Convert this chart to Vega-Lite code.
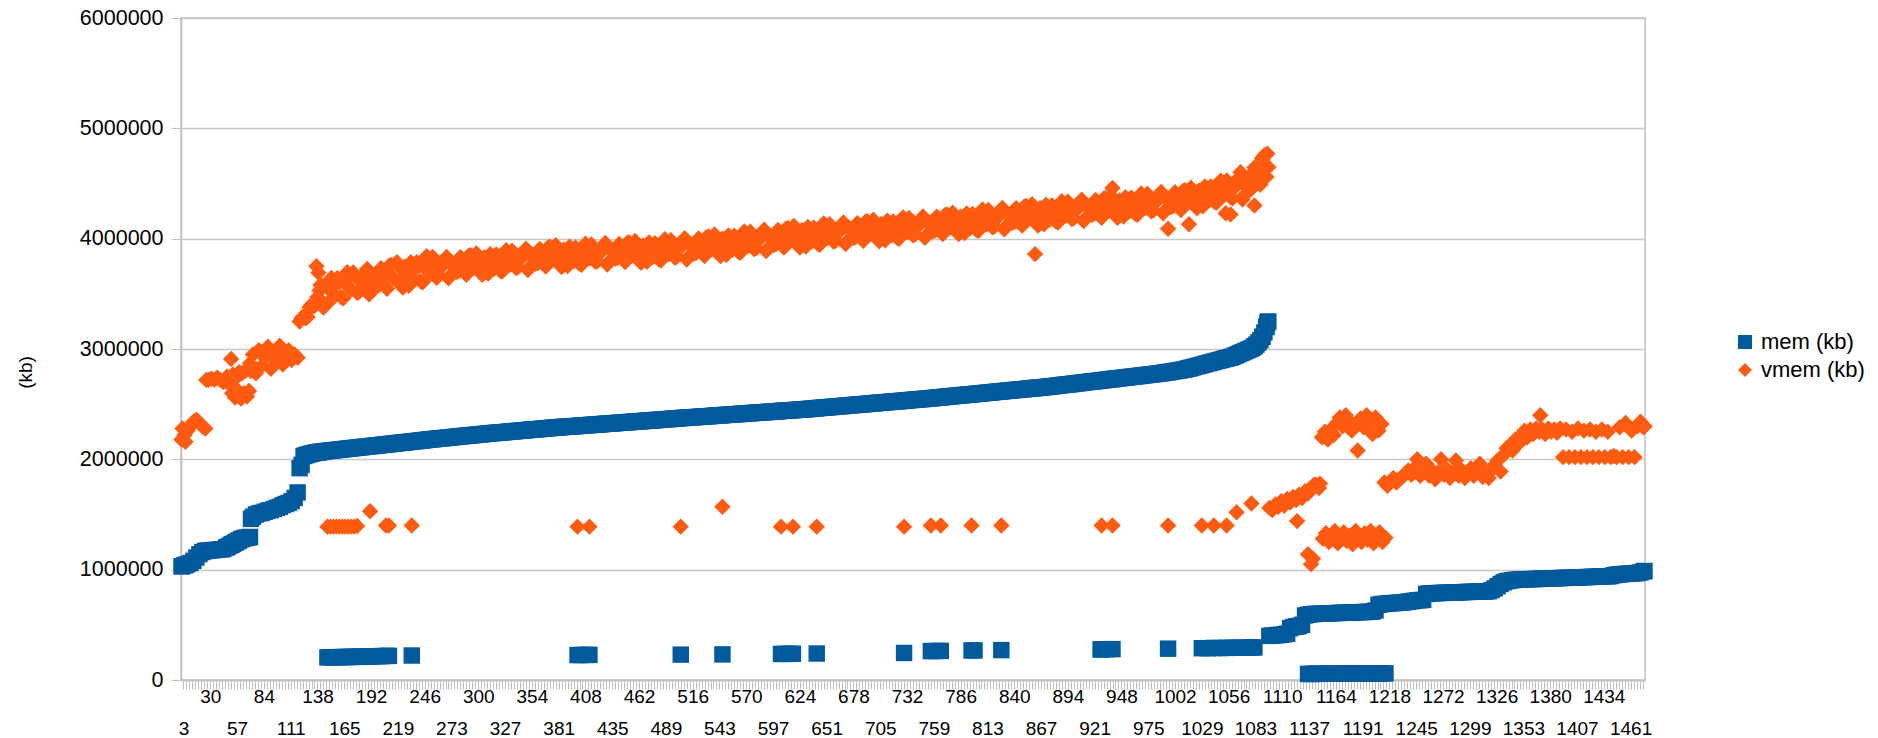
{
  "$schema": "https://vega.github.io/schema/vega-lite/v6.json",
  "width": 1464,
  "height": 662,
  "autosize": {"type": "none"},
  "padding": {"left": 181, "top": 18, "right": 233, "bottom": 58},
  "background": "#ffffff",
  "config": {
    "font": "Liberation Sans",
    "view": {"stroke": "#c0c0c0", "strokeWidth": 1.5},
    "axis": {
      "domainColor": "#c0c0c0",
      "domainWidth": 1.5,
      "tickColor": "#c0c0c0",
      "gridColor": "#c8c8c8",
      "gridWidth": 1.5,
      "labelColor": "#000000",
      "labelFont": "Liberation Sans",
      "titleFont": "Liberation Sans",
      "titleColor": "#000000",
      "titleFontWeight": "normal"
    },
    "legend": {
      "labelFont": "Liberation Sans",
      "labelColor": "#000000"
    }
  },
  "data": {
    "values": [
      {"i":1,"m":1030000,"v":2180000},
      {"i":2,"m":1032000,"v":2280000},
      {"i":4,"m":1040000,"v":2220000},
      {"i":5,"m":1042000,"v":2160000},
      {"i":7,"m":1050000,"v":2260000},
      {"i":10,"m":1060000,"v":2300000},
      {"i":13,"m":1080000,"v":2340000},
      {"i":16,"m":1110000,"v":2360000},
      {"i":19,"m":1140000,"v":2330000},
      {"i":22,"m":1160000,"v":2300000},
      {"i":25,"m":1170000,"v":2280000},
      {"i":26,"m":1170000,"v":2720000},
      {"i":28,"m":1172000,"v":2720000},
      {"i":31,"m":1175000,"v":2730000},
      {"i":34,"m":1178000,"v":2720000},
      {"i":37,"m":1180000,"v":2740000},
      {"i":40,"m":1183000,"v":2720000},
      {"i":43,"m":1186000,"v":2700000},
      {"i":46,"m":1200000,"v":2720000},
      {"i":47,"m":1205000,"v":2750000},
      {"i":49,"m":1215000,"v":2680000},
      {"i":51,"m":1225000,"v":2910000},
      {"i":52,"m":1230000,"v":2600000},
      {"i":53,"m":1235000,"v":2770000},
      {"i":55,"m":1245000,"v":2560000},
      {"i":56,"m":1250000,"v":2740000},
      {"i":58,"m":1260000,"v":2620000},
      {"i":59,"m":1265000,"v":2790000},
      {"i":61,"m":1275000,"v":2550000},
      {"i":62,"m":1280000,"v":2780000},
      {"i":64,"m":1285000,"v":2600000},
      {"i":65,"m":1288000,"v":2800000},
      {"i":67,"m":1290000,"v":2570000},
      {"i":69,"m":1295000,"v":2620000},
      {"i":70,"m":1296000,"v":2870000},
      {"i":71,"m":1460000,"v":2800000},
      {"i":73,"m":1480000,"v":2950000},
      {"i":76,"m":1500000,"v":2780000},
      {"i":79,"m":1510000,"v":2990000},
      {"i":82,"m":1515000,"v":2850000},
      {"i":85,"m":1525000,"v":2920000},
      {"i":88,"m":1535000,"v":3020000},
      {"i":91,"m":1540000,"v":2820000},
      {"i":94,"m":1550000,"v":2960000},
      {"i":97,"m":1560000,"v":2890000},
      {"i":100,"m":1570000,"v":3030000},
      {"i":103,"m":1585000,"v":2860000},
      {"i":106,"m":1595000,"v":2940000},
      {"i":109,"m":1605000,"v":2990000},
      {"i":112,"m":1620000,"v":2900000},
      {"i":115,"m":1650000,"v":2950000},
      {"i":118,"m":1700000,"v":2920000},
      {"i":120,"m":1920000,"v":3250000},
      {"i":122,"m":1950000,"v":3280000},
      {"i":124,"m":2030000,"v":3300000},
      {"i":128,"m":2042000,"v":3289000},
      {"i":132,"m":2052000,"v":3402000},
      {"i":136,"m":2060000,"v":3400000},
      {"i":137,"m":2060000,"v":3750000},
      {"i":139,"m":2064000,"v":3690000},
      {"i":140,"m":2066000,"v":3531000},
      {"i":141,"m":2067000,"v":3580000},
      {"i":144,"m":2071000,"v":3376000},
      {"i":148,"m":2076000,"v":3552000},
      {"i":152,"m":2080000,"v":3643000},
      {"i":156,"m":2084000,"v":3488000},
      {"i":160,"m":2088000,"v":3603000},
      {"i":164,"m":2092000,"v":3460000},
      {"i":168,"m":2096000,"v":3695000},
      {"i":172,"m":2100000,"v":3540000},
      {"i":176,"m":2104000,"v":3656000},
      {"i":180,"m":2108000,"v":3519000},
      {"i":184,"m":2112000,"v":3628000},
      {"i":188,"m":2116000,"v":3725000},
      {"i":192,"m":2120000,"v":3528000},
      {"i":196,"m":2124000,"v":3626000},
      {"i":200,"m":2128000,"v":3579000},
      {"i":204,"m":2132000,"v":3688000},
      {"i":208,"m":2136000,"v":3545000},
      {"i":212,"m":2140000,"v":3762000},
      {"i":216,"m":2144000,"v":3632000},
      {"i":220,"m":2148000,"v":3747000},
      {"i":224,"m":2152000,"v":3556000},
      {"i":228,"m":2156000,"v":3695000},
      {"i":232,"m":2160000,"v":3786000},
      {"i":236,"m":2164000,"v":3632000},
      {"i":240,"m":2168000,"v":3747000},
      {"i":244,"m":2172000,"v":3604000},
      {"i":248,"m":2177000,"v":3840000},
      {"i":252,"m":2181000,"v":3682000},
      {"i":256,"m":2184000,"v":3794000},
      {"i":260,"m":2188000,"v":3666000},
      {"i":264,"m":2192000,"v":3755000},
      {"i":268,"m":2195000,"v":3834000},
      {"i":272,"m":2199000,"v":3668000},
      {"i":276,"m":2203000,"v":3746000},
      {"i":280,"m":2206000,"v":3705000},
      {"i":284,"m":2210000,"v":3794000},
      {"i":288,"m":2214000,"v":3673000},
      {"i":292,"m":2217000,"v":3851000},
      {"i":296,"m":2221000,"v":3740000},
      {"i":300,"m":2225000,"v":3834000},
      {"i":304,"m":2228000,"v":3673000},
      {"i":308,"m":2232000,"v":3786000},
      {"i":312,"m":2236000,"v":3860000},
      {"i":316,"m":2239000,"v":3729000},
      {"i":320,"m":2242000,"v":3823000},
      {"i":324,"m":2245000,"v":3701000},
      {"i":328,"m":2248000,"v":3895000},
      {"i":332,"m":2252000,"v":3764000},
      {"i":336,"m":2255000,"v":3858000},
      {"i":340,"m":2258000,"v":3741000},
      {"i":344,"m":2261000,"v":3830000},
      {"i":348,"m":2264000,"v":3909000},
      {"i":352,"m":2268000,"v":3743000},
      {"i":356,"m":2271000,"v":3821000},
      {"i":360,"m":2274000,"v":3780000},
      {"i":364,"m":2277000,"v":3869000},
      {"i":368,"m":2280000,"v":3748000},
      {"i":372,"m":2284000,"v":3926000},
      {"i":376,"m":2287000,"v":3815000},
      {"i":380,"m":2290000,"v":3907000},
      {"i":384,"m":2293000,"v":3744000},
      {"i":388,"m":2295000,"v":3856000},
      {"i":392,"m":2298000,"v":3928000},
      {"i":396,"m":2300000,"v":3795000},
      {"i":400,"m":2303000,"v":3887000},
      {"i":404,"m":2306000,"v":3764000},
      {"i":408,"m":2308000,"v":3955000},
      {"i":412,"m":2311000,"v":3822000},
      {"i":416,"m":2314000,"v":3914000},
      {"i":420,"m":2316000,"v":3796000},
      {"i":424,"m":2319000,"v":3883000},
      {"i":428,"m":2322000,"v":3960000},
      {"i":432,"m":2324000,"v":3792000},
      {"i":436,"m":2327000,"v":3869000},
      {"i":440,"m":2330000,"v":3825000},
      {"i":444,"m":2332000,"v":3912000},
      {"i":448,"m":2335000,"v":3789000},
      {"i":452,"m":2338000,"v":3966000},
      {"i":456,"m":2341000,"v":3853000},
      {"i":460,"m":2343000,"v":3945000},
      {"i":464,"m":2346000,"v":3782000},
      {"i":468,"m":2349000,"v":3894000},
      {"i":472,"m":2352000,"v":3966000},
      {"i":476,"m":2354000,"v":3833000},
      {"i":480,"m":2357000,"v":3925000},
      {"i":484,"m":2360000,"v":3802000},
      {"i":488,"m":2363000,"v":3994000},
      {"i":492,"m":2365000,"v":3861000},
      {"i":496,"m":2368000,"v":3953000},
      {"i":500,"m":2371000,"v":3835000},
      {"i":504,"m":2374000,"v":3924000},
      {"i":508,"m":2376000,"v":4003000},
      {"i":512,"m":2379000,"v":3837000},
      {"i":516,"m":2381000,"v":3915000},
      {"i":520,"m":2384000,"v":3874000},
      {"i":524,"m":2386000,"v":3963000},
      {"i":528,"m":2389000,"v":3842000},
      {"i":532,"m":2391000,"v":4021000},
      {"i":536,"m":2394000,"v":3910000},
      {"i":540,"m":2397000,"v":4004000},
      {"i":544,"m":2399000,"v":3843000},
      {"i":548,"m":2402000,"v":3956000},
      {"i":552,"m":2404000,"v":4030000},
      {"i":556,"m":2407000,"v":3899000},
      {"i":560,"m":2409000,"v":3993000},
      {"i":564,"m":2412000,"v":3872000},
      {"i":568,"m":2415000,"v":4066000},
      {"i":572,"m":2417000,"v":3935000},
      {"i":576,"m":2420000,"v":4028000},
      {"i":580,"m":2422000,"v":3912000},
      {"i":584,"m":2425000,"v":4001000},
      {"i":588,"m":2427000,"v":4080000},
      {"i":592,"m":2430000,"v":3914000},
      {"i":596,"m":2432000,"v":3993000},
      {"i":600,"m":2435000,"v":3952000},
      {"i":604,"m":2438000,"v":4041000},
      {"i":608,"m":2440000,"v":3920000},
      {"i":612,"m":2443000,"v":4098000},
      {"i":616,"m":2445000,"v":3987000},
      {"i":620,"m":2448000,"v":4081000},
      {"i":624,"m":2450000,"v":3920000},
      {"i":628,"m":2453000,"v":4033000},
      {"i":632,"m":2456000,"v":4106000},
      {"i":636,"m":2459000,"v":3973000},
      {"i":640,"m":2462000,"v":4066000},
      {"i":644,"m":2466000,"v":3944000},
      {"i":648,"m":2469000,"v":4137000},
      {"i":652,"m":2472000,"v":4005000},
      {"i":656,"m":2475000,"v":4097000},
      {"i":660,"m":2478000,"v":3980000},
      {"i":664,"m":2481000,"v":4068000},
      {"i":668,"m":2484000,"v":4146000},
      {"i":672,"m":2488000,"v":3979000},
      {"i":676,"m":2491000,"v":4057000},
      {"i":680,"m":2494000,"v":4014000},
      {"i":684,"m":2497000,"v":4102000},
      {"i":688,"m":2500000,"v":3980000},
      {"i":692,"m":2503000,"v":4158000},
      {"i":696,"m":2506000,"v":4046000},
      {"i":700,"m":2509000,"v":4138000},
      {"i":704,"m":2513000,"v":3976000},
      {"i":708,"m":2516000,"v":4089000},
      {"i":712,"m":2519000,"v":4162000},
      {"i":716,"m":2522000,"v":4030000},
      {"i":720,"m":2525000,"v":4123000},
      {"i":724,"m":2528000,"v":4000000},
      {"i":728,"m":2531000,"v":4193000},
      {"i":732,"m":2534000,"v":4061000},
      {"i":736,"m":2538000,"v":4154000},
      {"i":740,"m":2541000,"v":4037000},
      {"i":744,"m":2544000,"v":4124000},
      {"i":748,"m":2547000,"v":4202000},
      {"i":752,"m":2550000,"v":4035000},
      {"i":756,"m":2554000,"v":4114000},
      {"i":760,"m":2557000,"v":4073000},
      {"i":764,"m":2561000,"v":4162000},
      {"i":768,"m":2564000,"v":4041000},
      {"i":772,"m":2568000,"v":4219000},
      {"i":776,"m":2571000,"v":4108000},
      {"i":780,"m":2575000,"v":4202000},
      {"i":784,"m":2578000,"v":4041000},
      {"i":788,"m":2582000,"v":4155000},
      {"i":792,"m":2585000,"v":4229000},
      {"i":796,"m":2589000,"v":4098000},
      {"i":800,"m":2592000,"v":4192000},
      {"i":804,"m":2596000,"v":4071000},
      {"i":808,"m":2599000,"v":4264000},
      {"i":812,"m":2603000,"v":4133000},
      {"i":816,"m":2606000,"v":4227000},
      {"i":820,"m":2610000,"v":4111000},
      {"i":824,"m":2614000,"v":4200000},
      {"i":828,"m":2617000,"v":4279000},
      {"i":832,"m":2621000,"v":4113000},
      {"i":836,"m":2624000,"v":4192000},
      {"i":840,"m":2628000,"v":4151000},
      {"i":844,"m":2631000,"v":4239000},
      {"i":848,"m":2635000,"v":4118000},
      {"i":852,"m":2638000,"v":4297000},
      {"i":856,"m":2642000,"v":4186000},
      {"i":860,"m":2645000,"v":4280000},
      {"i":861,"m":2647000,"v":3860000},
      {"i":864,"m":2649000,"v":4119000},
      {"i":868,"m":2652000,"v":4233000},
      {"i":872,"m":2656000,"v":4307000},
      {"i":876,"m":2660000,"v":4175000},
      {"i":880,"m":2664000,"v":4268000},
      {"i":884,"m":2669000,"v":4147000},
      {"i":888,"m":2673000,"v":4340000},
      {"i":892,"m":2677000,"v":4209000},
      {"i":896,"m":2681000,"v":4302000},
      {"i":900,"m":2686000,"v":4186000},
      {"i":904,"m":2690000,"v":4274000},
      {"i":908,"m":2694000,"v":4353000},
      {"i":912,"m":2699000,"v":4186000},
      {"i":916,"m":2703000,"v":4265000},
      {"i":920,"m":2707000,"v":4223000},
      {"i":924,"m":2711000,"v":4312000},
      {"i":928,"m":2716000,"v":4190000},
      {"i":932,"m":2720000,"v":4369000},
      {"i":936,"m":2724000,"v":4257000},
      {"i":939,"m":2728000,"v":4460000},
      {"i":940,"m":2729000,"v":4351000},
      {"i":944,"m":2733000,"v":4190000},
      {"i":948,"m":2737000,"v":4303000},
      {"i":952,"m":2741000,"v":4376000},
      {"i":956,"m":2746000,"v":4245000},
      {"i":960,"m":2750000,"v":4338000},
      {"i":964,"m":2754000,"v":4217000},
      {"i":968,"m":2759000,"v":4410000},
      {"i":972,"m":2763000,"v":4279000},
      {"i":976,"m":2767000,"v":4372000},
      {"i":980,"m":2771000,"v":4256000},
      {"i":984,"m":2776000,"v":4344000},
      {"i":988,"m":2780000,"v":4423000},
      {"i":992,"m":2786000,"v":4256000},
      {"i":995,"m":2790000,"v":4090000},
      {"i":996,"m":2792000,"v":4335000},
      {"i":1000,"m":2797000,"v":4293000},
      {"i":1004,"m":2803000,"v":4382000},
      {"i":1008,"m":2809000,"v":4260000},
      {"i":1012,"m":2815000,"v":4440000},
      {"i":1016,"m":2825000,"v":4130000},
      {"i":1017,"m":2827000,"v":4333000},
      {"i":1020,"m":2834000,"v":4432000},
      {"i":1024,"m":2844000,"v":4275000},
      {"i":1028,"m":2853000,"v":4393000},
      {"i":1032,"m":2863000,"v":4472000},
      {"i":1036,"m":2873000,"v":4345000},
      {"i":1040,"m":2882000,"v":4443000},
      {"i":1044,"m":2892000,"v":4327000},
      {"i":1048,"m":2901000,"v":4525000},
      {"i":1052,"m":2911000,"v":4398000},
      {"i":1053,"m":2914000,"v":4230000},
      {"i":1056,"m":2920000,"v":4497000},
      {"i":1058,"m":2925000,"v":4220000},
      {"i":1060,"m":2930000,"v":4365000},
      {"i":1064,"m":2946000,"v":4490000},
      {"i":1068,"m":2962000,"v":4602000},
      {"i":1072,"m":2978000,"v":4394000},
      {"i":1076,"m":2994000,"v":4506000},
      {"i":1080,"m":3010000,"v":4462000},
      {"i":1082,"m":3025000,"v":4300000},
      {"i":1084,"m":3040000,"v":4612000},
      {"i":1088,"m":3080000,"v":4490000},
      {"i":1090,"m":3110000,"v":4720000},
      {"i":1092,"m":3150000,"v":4757000},
      {"i":1094,"m":3200000,"v":4560000},
      {"i":1095,"m":3240000,"v":4770000},
      {"i":1096,"m":3250000,"v":4648000},
      {"i":126,"m":2036000,"v":3278000},
      {"i":130,"m":2047000,"v":3379000},
      {"i":134,"m":2056000,"v":3384000},
      {"i":138,"m":2063000,"v":3472000},
      {"i":142,"m":2068000,"v":3427000},
      {"i":146,"m":2073000,"v":3584000},
      {"i":150,"m":2078000,"v":3430000},
      {"i":154,"m":2082000,"v":3581000},
      {"i":158,"m":2086000,"v":3642000},
      {"i":162,"m":2090000,"v":3469000},
      {"i":166,"m":2094000,"v":3626000},
      {"i":170,"m":2098000,"v":3555000},
      {"i":174,"m":2102000,"v":3694000},
      {"i":178,"m":2106000,"v":3510000},
      {"i":182,"m":2110000,"v":3607000},
      {"i":186,"m":2114000,"v":3680000},
      {"i":190,"m":2118000,"v":3495000},
      {"i":194,"m":2122000,"v":3659000},
      {"i":198,"m":2126000,"v":3570000},
      {"i":202,"m":2130000,"v":3733000},
      {"i":206,"m":2134000,"v":3572000},
      {"i":210,"m":2138000,"v":3753000},
      {"i":214,"m":2142000,"v":3647000},
      {"i":218,"m":2146000,"v":3786000},
      {"i":222,"m":2150000,"v":3625000},
      {"i":226,"m":2154000,"v":3746000},
      {"i":230,"m":2158000,"v":3573000},
      {"i":234,"m":2162000,"v":3725000},
      {"i":238,"m":2166000,"v":3786000},
      {"i":242,"m":2170000,"v":3613000},
      {"i":246,"m":2174000,"v":3770000},
      {"i":250,"m":2179000,"v":3698000},
      {"i":254,"m":2182000,"v":3834000},
      {"i":258,"m":2186000,"v":3645000},
      {"i":262,"m":2190000,"v":3738000},
      {"i":266,"m":2193000,"v":3797000},
      {"i":270,"m":2197000,"v":3641000},
      {"i":274,"m":2201000,"v":3774000},
      {"i":278,"m":2204000,"v":3698000},
      {"i":282,"m":2208000,"v":3832000},
      {"i":286,"m":2212000,"v":3696000},
      {"i":290,"m":2215000,"v":3844000},
      {"i":294,"m":2219000,"v":3753000},
      {"i":298,"m":2223000,"v":3867000},
      {"i":302,"m":2226000,"v":3731000},
      {"i":306,"m":2230000,"v":3829000},
      {"i":310,"m":2234000,"v":3683000},
      {"i":314,"m":2237000,"v":3807000},
      {"i":318,"m":2240000,"v":3856000},
      {"i":322,"m":2243000,"v":3709000},
      {"i":326,"m":2246000,"v":3838000},
      {"i":330,"m":2250000,"v":3777000},
      {"i":334,"m":2253000,"v":3891000},
      {"i":338,"m":2256000,"v":3734000},
      {"i":342,"m":2259000,"v":3813000},
      {"i":346,"m":2262000,"v":3872000},
      {"i":350,"m":2266000,"v":3716000},
      {"i":354,"m":2269000,"v":3849000},
      {"i":358,"m":2272000,"v":3773000},
      {"i":362,"m":2275000,"v":3907000},
      {"i":366,"m":2278000,"v":3771000},
      {"i":370,"m":2282000,"v":3919000},
      {"i":374,"m":2285000,"v":3828000},
      {"i":378,"m":2288000,"v":3941000},
      {"i":382,"m":2291000,"v":3803000},
      {"i":386,"m":2294000,"v":3900000},
      {"i":390,"m":2296000,"v":3752000},
      {"i":394,"m":2299000,"v":3874000},
      {"i":398,"m":2301000,"v":3921000},
      {"i":402,"m":2304000,"v":3773000},
      {"i":406,"m":2307000,"v":3900000},
      {"i":410,"m":2309000,"v":3836000},
      {"i":414,"m":2312000,"v":3948000},
      {"i":418,"m":2315000,"v":3790000},
      {"i":422,"m":2317000,"v":3867000},
      {"i":426,"m":2320000,"v":3924000},
      {"i":430,"m":2323000,"v":3766000},
      {"i":434,"m":2325000,"v":3898000},
      {"i":438,"m":2328000,"v":3820000},
      {"i":442,"m":2331000,"v":3951000},
      {"i":446,"m":2333000,"v":3813000},
      {"i":450,"m":2336000,"v":3960000},
      {"i":454,"m":2339000,"v":3867000},
      {"i":458,"m":2342000,"v":3979000},
      {"i":462,"m":2344000,"v":3841000},
      {"i":466,"m":2347000,"v":3938000},
      {"i":470,"m":2350000,"v":3790000},
      {"i":474,"m":2353000,"v":3912000},
      {"i":478,"m":2355000,"v":3959000},
      {"i":482,"m":2358000,"v":3811000},
      {"i":486,"m":2361000,"v":3938000},
      {"i":490,"m":2364000,"v":3875000},
      {"i":494,"m":2366000,"v":3987000},
      {"i":498,"m":2369000,"v":3829000},
      {"i":502,"m":2372000,"v":3907000},
      {"i":506,"m":2375000,"v":3966000},
      {"i":510,"m":2377000,"v":3810000},
      {"i":514,"m":2380000,"v":3944000},
      {"i":518,"m":2382000,"v":3867000},
      {"i":522,"m":2385000,"v":4001000},
      {"i":526,"m":2387000,"v":3865000},
      {"i":530,"m":2390000,"v":4014000},
      {"i":534,"m":2392000,"v":3923000},
      {"i":538,"m":2395000,"v":4037000},
      {"i":542,"m":2398000,"v":3901000},
      {"i":546,"m":2400000,"v":4000000},
      {"i":550,"m":2403000,"v":3853000},
      {"i":554,"m":2405000,"v":3977000},
      {"i":558,"m":2408000,"v":4026000},
      {"i":562,"m":2410000,"v":3880000},
      {"i":566,"m":2413000,"v":4009000},
      {"i":570,"m":2416000,"v":3948000},
      {"i":574,"m":2418000,"v":4062000},
      {"i":578,"m":2421000,"v":3905000},
      {"i":582,"m":2423000,"v":3984000},
      {"i":586,"m":2426000,"v":4043000},
      {"i":590,"m":2428000,"v":3887000},
      {"i":594,"m":2431000,"v":4021000},
      {"i":598,"m":2433000,"v":3945000},
      {"i":602,"m":2436000,"v":4079000},
      {"i":606,"m":2439000,"v":3943000},
      {"i":610,"m":2441000,"v":4091000},
      {"i":614,"m":2444000,"v":4000000},
      {"i":618,"m":2446000,"v":4114000},
      {"i":622,"m":2449000,"v":3978000},
      {"i":626,"m":2451000,"v":4076000},
      {"i":630,"m":2454000,"v":3929000},
      {"i":634,"m":2457000,"v":4052000},
      {"i":638,"m":2460000,"v":4100000},
      {"i":642,"m":2464000,"v":3953000},
      {"i":646,"m":2467000,"v":4080000},
      {"i":650,"m":2470000,"v":4018000},
      {"i":654,"m":2473000,"v":4131000},
      {"i":658,"m":2476000,"v":3974000},
      {"i":662,"m":2479000,"v":4052000},
      {"i":666,"m":2482000,"v":4109000},
      {"i":670,"m":2486000,"v":3952000},
      {"i":674,"m":2489000,"v":4085000},
      {"i":678,"m":2492000,"v":4008000},
      {"i":682,"m":2495000,"v":4141000},
      {"i":686,"m":2498000,"v":4003000},
      {"i":690,"m":2501000,"v":4151000},
      {"i":694,"m":2504000,"v":4059000},
      {"i":698,"m":2507000,"v":4172000},
      {"i":702,"m":2511000,"v":4035000},
      {"i":706,"m":2514000,"v":4132000},
      {"i":710,"m":2517000,"v":3985000},
      {"i":714,"m":2520000,"v":4108000},
      {"i":718,"m":2523000,"v":4156000},
      {"i":722,"m":2526000,"v":4009000},
      {"i":726,"m":2529000,"v":4137000},
      {"i":730,"m":2532000,"v":4074000},
      {"i":734,"m":2536000,"v":4187000},
      {"i":738,"m":2539000,"v":4030000},
      {"i":742,"m":2542000,"v":4108000},
      {"i":746,"m":2545000,"v":4166000},
      {"i":750,"m":2548000,"v":4008000},
      {"i":754,"m":2552000,"v":4142000},
      {"i":758,"m":2555000,"v":4066000},
      {"i":762,"m":2559000,"v":4200000},
      {"i":766,"m":2562000,"v":4064000},
      {"i":770,"m":2566000,"v":4213000},
      {"i":774,"m":2569000,"v":4121000},
      {"i":778,"m":2573000,"v":4235000},
      {"i":782,"m":2576000,"v":4099000},
      {"i":786,"m":2580000,"v":4198000},
      {"i":790,"m":2583000,"v":4052000},
      {"i":794,"m":2587000,"v":4176000},
      {"i":798,"m":2590000,"v":4225000},
      {"i":802,"m":2594000,"v":4079000},
      {"i":806,"m":2597000,"v":4207000},
      {"i":810,"m":2601000,"v":4146000},
      {"i":814,"m":2604000,"v":4260000},
      {"i":818,"m":2608000,"v":4104000},
      {"i":822,"m":2612000,"v":4183000},
      {"i":826,"m":2615000,"v":4242000},
      {"i":830,"m":2619000,"v":4086000},
      {"i":834,"m":2622000,"v":4220000},
      {"i":838,"m":2626000,"v":4144000},
      {"i":842,"m":2629000,"v":4277000},
      {"i":846,"m":2633000,"v":4141000},
      {"i":850,"m":2636000,"v":4290000},
      {"i":854,"m":2640000,"v":4199000},
      {"i":858,"m":2643000,"v":4313000},
      {"i":862,"m":2647000,"v":4177000},
      {"i":866,"m":2650000,"v":4276000},
      {"i":870,"m":2654000,"v":4130000},
      {"i":874,"m":2658000,"v":4253000},
      {"i":878,"m":2662000,"v":4302000},
      {"i":882,"m":2666000,"v":4155000},
      {"i":886,"m":2671000,"v":4284000},
      {"i":890,"m":2675000,"v":4222000},
      {"i":894,"m":2679000,"v":4336000},
      {"i":898,"m":2683000,"v":4179000},
      {"i":902,"m":2688000,"v":4258000},
      {"i":906,"m":2692000,"v":4316000},
      {"i":910,"m":2696000,"v":4160000},
      {"i":914,"m":2701000,"v":4293000},
      {"i":918,"m":2705000,"v":4216000},
      {"i":922,"m":2709000,"v":4350000},
      {"i":926,"m":2713000,"v":4214000},
      {"i":930,"m":2718000,"v":4362000},
      {"i":934,"m":2722000,"v":4271000},
      {"i":938,"m":2726000,"v":4384000},
      {"i":942,"m":2731000,"v":4248000},
      {"i":946,"m":2735000,"v":4346000},
      {"i":950,"m":2739000,"v":4200000},
      {"i":954,"m":2743000,"v":4323000},
      {"i":958,"m":2748000,"v":4372000},
      {"i":962,"m":2752000,"v":4225000},
      {"i":966,"m":2756000,"v":4354000},
      {"i":970,"m":2761000,"v":4292000},
      {"i":974,"m":2765000,"v":4406000},
      {"i":978,"m":2769000,"v":4249000},
      {"i":982,"m":2773000,"v":4328000},
      {"i":986,"m":2778000,"v":4386000},
      {"i":990,"m":2783000,"v":4230000},
      {"i":994,"m":2789000,"v":4363000},
      {"i":998,"m":2794000,"v":4287000},
      {"i":1002,"m":2800000,"v":4420000},
      {"i":1006,"m":2806000,"v":4284000},
      {"i":1010,"m":2812000,"v":4433000},
      {"i":1014,"m":2820000,"v":4344000},
      {"i":1018,"m":2829000,"v":4462000},
      {"i":1022,"m":2839000,"v":4331000},
      {"i":1026,"m":2848000,"v":4434000},
      {"i":1030,"m":2858000,"v":4293000},
      {"i":1034,"m":2868000,"v":4421000},
      {"i":1038,"m":2877000,"v":4474000},
      {"i":1042,"m":2887000,"v":4333000},
      {"i":1046,"m":2896000,"v":4466000},
      {"i":1050,"m":2906000,"v":4409000},
      {"i":1054,"m":2915000,"v":4528000},
      {"i":1058,"m":2925000,"v":4376000},
      {"i":1062,"m":2938000,"v":4463000},
      {"i":1066,"m":2954000,"v":4549000},
      {"i":1070,"m":2970000,"v":4355000},
      {"i":1074,"m":2986000,"v":4538000},
      {"i":1078,"m":3002000,"v":4448000},
      {"i":1082,"m":3025000,"v":4644000},
      {"i":1086,"m":3060000,"v":4502000},
      {"i":1090,"m":3110000,"v":4730000},
      {"i":1094,"m":3200000,"v":4647000},
      {"i":148,"m":205000,"v":1390000},
      {"i":151,"m":206000,"v":1390000},
      {"i":154,"m":206000,"v":1390000},
      {"i":157,"m":207000,"v":1390000},
      {"i":160,"m":207000,"v":1390000},
      {"i":163,"m":208000,"v":1390000},
      {"i":166,"m":208000,"v":1390000},
      {"i":169,"m":209000,"v":1390000},
      {"i":172,"m":209000,"v":1390000},
      {"i":175,"m":210000,"v":1390000},
      {"i":178,"m":210000,"v":1395000},
      {"i":181,"m":211000,"v":3640000},
      {"i":185,"m":212000,"v":3600000},
      {"i":188,"m":213000,"v":3700000},
      {"i":191,"m":213000,"v":1530000},
      {"i":195,"m":215000,"v":3620000},
      {"i":199,"m":216000,"v":3700000},
      {"i":203,"m":217000,"v":3650000},
      {"i":207,"m":218000,"v":1400000},
      {"i":210,"m":219000,"v":1400000},
      {"i":233,"m":222000,"v":1400000},
      {"i":400,"m":226000,"v":1390000},
      {"i":404,"m":227000,"v":3880000},
      {"i":408,"m":227000,"v":3930000},
      {"i":412,"m":228000,"v":1390000},
      {"i":504,"m":230000,"v":1390000},
      {"i":546,"m":232000,"v":1570000},
      {"i":605,"m":236000,"v":1390000},
      {"i":609,"m":237000,"v":4000000},
      {"i":613,"m":237000,"v":4060000},
      {"i":617,"m":238000,"v":1390000},
      {"i":641,"m":240000,"v":1390000},
      {"i":729,"m":245000,"v":1390000},
      {"i":756,"m":262000,"v":1400000},
      {"i":761,"m":263000,"v":4110000},
      {"i":766,"m":264000,"v":1400000},
      {"i":797,"m":268000,"v":1400000},
      {"i":800,"m":268000,"v":4150000},
      {"i":827,"m":271000,"v":1400000},
      {"i":927,"m":277000,"v":4240000},
      {"i":928,"m":278000,"v":1400000},
      {"i":933,"m":279000,"v":4300000},
      {"i":939,"m":280000,"v":1400000},
      {"i":995,"m":284000,"v":1400000},
      {"i":1029,"m":288000,"v":1400000},
      {"i":1035,"m":289000,"v":4400000},
      {"i":1041,"m":290000,"v":1400000},
      {"i":1047,"m":290000,"v":4470000},
      {"i":1054,"m":291000,"v":1400000},
      {"i":1059,"m":292000,"v":4480000},
      {"i":1064,"m":292000,"v":1520000},
      {"i":1070,"m":293000,"v":4500000},
      {"i":1076,"m":294000,"v":4560000},
      {"i":1079,"m":295000,"v":1600000},
      {"i":1082,"m":295000,"v":4540000},
      {"i":1097,"m":400000,"v":1560000},
      {"i":1100,"m":402000,"v":1540000},
      {"i":1103,"m":405000,"v":1590000},
      {"i":1106,"m":408000,"v":1570000},
      {"i":1109,"m":410000,"v":1620000},
      {"i":1112,"m":415000,"v":1580000},
      {"i":1115,"m":420000,"v":1640000},
      {"i":1118,"m":470000,"v":1610000},
      {"i":1121,"m":480000,"v":1660000},
      {"i":1124,"m":485000,"v":1630000},
      {"i":1125,"m":487000,"v":1440000},
      {"i":1127,"m":490000,"v":1680000},
      {"i":1130,"m":500000,"v":1650000},
      {"i":1133,"m":585000,"v":1710000},
      {"i":1136,"m":592000,"v":1690000},
      {"i":1139,"m":596000,"v":1740000},
      {"i":1142,"m":598000,"v":1770000},
      {"i":1145,"m":600000,"v":1760000},
      {"i":1148,"m":601000,"v":1780000},
      {"i":1136,"m":55000,"v":1140000},
      {"i":1139,"m":55000,"v":1050000},
      {"i":1141,"m":56000,"v":1100000},
      {"i":1144,"m":56000,"v":1770000},
      {"i":1147,"m":56000,"v":1740000},
      {"i":1150,"m":602000,"v":2200000},
      {"i":1151,"m":56000,"v":1280000},
      {"i":1153,"m":603000,"v":2250000},
      {"i":1154,"m":57000,"v":1330000},
      {"i":1156,"m":604000,"v":2180000},
      {"i":1157,"m":57000,"v":1250000},
      {"i":1159,"m":605000,"v":2270000},
      {"i":1160,"m":57000,"v":1300000},
      {"i":1162,"m":606000,"v":2220000},
      {"i":1163,"m":57000,"v":1350000},
      {"i":1165,"m":607000,"v":2330000},
      {"i":1166,"m":57000,"v":1240000},
      {"i":1168,"m":608000,"v":2380000},
      {"i":1169,"m":58000,"v":1290000},
      {"i":1171,"m":609000,"v":2300000},
      {"i":1172,"m":58000,"v":1340000},
      {"i":1174,"m":610000,"v":2400000},
      {"i":1175,"m":58000,"v":1260000},
      {"i":1177,"m":611000,"v":2350000},
      {"i":1178,"m":58000,"v":1310000},
      {"i":1180,"m":612000,"v":2260000},
      {"i":1181,"m":58000,"v":1230000},
      {"i":1183,"m":613000,"v":2310000},
      {"i":1184,"m":58000,"v":1350000},
      {"i":1186,"m":614000,"v":2080000},
      {"i":1187,"m":59000,"v":1280000},
      {"i":1189,"m":615000,"v":2370000},
      {"i":1190,"m":59000,"v":1250000},
      {"i":1192,"m":616000,"v":2290000},
      {"i":1193,"m":59000,"v":1330000},
      {"i":1195,"m":617000,"v":2400000},
      {"i":1196,"m":59000,"v":1270000},
      {"i":1198,"m":618000,"v":2330000},
      {"i":1199,"m":59000,"v":1350000},
      {"i":1201,"m":620000,"v":2230000},
      {"i":1202,"m":59000,"v":1240000},
      {"i":1204,"m":630000,"v":2380000},
      {"i":1205,"m":60000,"v":1300000},
      {"i":1207,"m":682000,"v":2260000},
      {"i":1208,"m":60000,"v":1340000},
      {"i":1210,"m":688000,"v":2320000},
      {"i":1211,"m":60000,"v":1250000},
      {"i":1213,"m":690000,"v":1790000},
      {"i":1214,"m":60000,"v":1290000},
      {"i":1216,"m":693000,"v":1760000},
      {"i":1219,"m":695000,"v":1800000},
      {"i":1222,"m":697000,"v":1830000},
      {"i":1225,"m":699000,"v":1790000},
      {"i":1228,"m":701000,"v":1820000},
      {"i":1231,"m":703000,"v":1840000},
      {"i":1234,"m":706000,"v":1870000},
      {"i":1237,"m":710000,"v":1900000},
      {"i":1240,"m":714000,"v":1860000},
      {"i":1243,"m":718000,"v":1920000},
      {"i":1246,"m":722000,"v":2000000},
      {"i":1249,"m":724000,"v":1850000},
      {"i":1252,"m":726000,"v":1890000},
      {"i":1255,"m":780000,"v":1960000},
      {"i":1258,"m":785000,"v":1850000},
      {"i":1261,"m":786000,"v":1900000},
      {"i":1264,"m":787000,"v":1820000},
      {"i":1267,"m":788000,"v":1880000},
      {"i":1270,"m":789000,"v":2000000},
      {"i":1273,"m":790000,"v":1860000},
      {"i":1276,"m":791000,"v":1910000},
      {"i":1279,"m":792000,"v":1830000},
      {"i":1282,"m":793000,"v":1880000},
      {"i":1285,"m":794000,"v":1990000},
      {"i":1288,"m":795000,"v":1850000},
      {"i":1291,"m":796000,"v":1900000},
      {"i":1294,"m":797000,"v":1830000},
      {"i":1297,"m":798000,"v":1870000},
      {"i":1300,"m":799000,"v":1920000},
      {"i":1303,"m":800000,"v":1850000},
      {"i":1306,"m":800000,"v":1890000},
      {"i":1309,"m":801000,"v":1960000},
      {"i":1312,"m":801000,"v":1840000},
      {"i":1315,"m":802000,"v":1880000},
      {"i":1318,"m":805000,"v":1830000},
      {"i":1321,"m":815000,"v":1900000},
      {"i":1324,"m":830000,"v":1950000},
      {"i":1327,"m":850000,"v":1990000},
      {"i":1330,"m":870000,"v":1890000},
      {"i":1333,"m":885000,"v":2040000},
      {"i":1336,"m":895000,"v":2100000},
      {"i":1339,"m":900000,"v":2120000},
      {"i":1342,"m":905000,"v":2080000},
      {"i":1345,"m":908000,"v":2180000},
      {"i":1348,"m":910000,"v":2140000},
      {"i":1351,"m":911000,"v":2220000},
      {"i":1354,"m":912000,"v":2260000},
      {"i":1357,"m":913000,"v":2200000},
      {"i":1360,"m":914000,"v":2270000},
      {"i":1363,"m":915000,"v":2230000},
      {"i":1366,"m":916000,"v":2280000},
      {"i":1369,"m":917000,"v":2250000},
      {"i":1370,"m":917000,"v":2400000},
      {"i":1372,"m":918000,"v":2270000},
      {"i":1375,"m":919000,"v":2230000},
      {"i":1378,"m":920000,"v":2280000},
      {"i":1381,"m":921000,"v":2250000},
      {"i":1384,"m":922000,"v":2270000},
      {"i":1387,"m":923000,"v":2240000},
      {"i":1390,"m":924000,"v":2280000},
      {"i":1393,"m":925000,"v":2020000},
      {"i":1396,"m":926000,"v":2270000},
      {"i":1399,"m":927000,"v":2020000},
      {"i":1402,"m":928000,"v":2250000},
      {"i":1405,"m":929000,"v":2020000},
      {"i":1408,"m":930000,"v":2280000},
      {"i":1411,"m":931000,"v":2020000},
      {"i":1414,"m":932000,"v":2260000},
      {"i":1417,"m":933000,"v":2020000},
      {"i":1420,"m":934000,"v":2270000},
      {"i":1423,"m":935000,"v":2020000},
      {"i":1426,"m":936000,"v":2250000},
      {"i":1429,"m":937000,"v":2020000},
      {"i":1432,"m":938000,"v":2270000},
      {"i":1435,"m":939000,"v":2020000},
      {"i":1438,"m":940000,"v":2250000},
      {"i":1441,"m":942000,"v":2020000},
      {"i":1444,"m":950000,"v":2030000},
      {"i":1447,"m":955000,"v":2020000},
      {"i":1450,"m":958000,"v":2290000},
      {"i":1453,"m":960000,"v":2020000},
      {"i":1456,"m":962000,"v":2330000},
      {"i":1459,"m":964000,"v":2020000},
      {"i":1462,"m":966000,"v":2260000},
      {"i":1465,"m":967000,"v":2020000},
      {"i":1468,"m":970000,"v":2300000},
      {"i":1471,"m":975000,"v":2340000},
      {"i":1474,"m":985000,"v":2290000},
      {"i":1475,"m":988000,"v":2300000}
    ]
  },
  "encoding": {
    "x": {
      "field": "i",
      "type": "quantitative",
      "scale": {"domain": [0.5, 1475.5], "nice": false, "zero": false},
      "axis": {
        "title": null,
        "grid": false,
        "values": {"expr": "sequence(3, 1476, 3)"},
        "format": "d",
        "tickSize": 9,
        "tickWidth": 1,
        "labelExpr": "(datum.value - 3) % 54 == 27 ? datum.label : ((datum.value - 3) % 54 == 0 ? ['', datum.label] : '')",
        "labelOverlap": false,
        "labelFlush": false,
        "labelBound": false,
        "labelPadding": -2,
        "labelBaseline": "top",
        "labelLineHeight": 32,
        "labelFontSize": 19
      }
    }
  },
  "layer": [
    {
      "mark": {"type": "point", "filled": true, "size": 270, "opacity": 1, "strokeWidth": 0},
      "encoding": {
        "y": {
          "field": "m",
          "type": "quantitative",
          "title": "(kb)",
          "scale": {"domain": [0, 6000000], "nice": false},
          "axis": {
            "values": [0, 1000000, 2000000, 3000000, 4000000, 5000000, 6000000],
            "format": "d",
            "tickSize": 10,
            "labelPadding": 8,
            "labelFontSize": 21.5,
            "grid": true,
            "titleFontSize": 19,
            "titleAngle": -90,
            "titleAlign": "center",
            "titleBaseline": "middle",
            "titleX": -156,
            "titleY": 354
          }
        },
        "color": {
          "datum": "mem (kb)",
          "type": "nominal",
          "scale": {"domain": ["mem (kb)", "vmem (kb)"], "range": ["#005a9c", "#ff5b10"]},
          "legend": {"title": null, "orient": "none", "legendX": 1553, "legendY": 313, "padding": 0, "labelFontSize": 22, "labelOffset": 5, "rowPadding": 6, "symbolSize": 196, "symbolOpacity": 1, "symbolStrokeWidth": 0}
        },
        "shape": {
          "datum": "mem (kb)",
          "type": "nominal",
          "scale": {"domain": ["mem (kb)", "vmem (kb)"], "range": ["square", "diamond"]},
          "legend": {"title": null, "orient": "none", "legendX": 1553, "legendY": 313, "padding": 0, "labelFontSize": 22, "labelOffset": 5, "rowPadding": 6, "symbolSize": 196, "symbolOpacity": 1, "symbolStrokeWidth": 0}
        }
      }
    },
    {
      "mark": {"type": "point", "filled": true, "size": 270, "opacity": 1, "strokeWidth": 0},
      "encoding": {
        "y": {
          "field": "v",
          "type": "quantitative",
          "title": "(kb)",
          "scale": {"domain": [0, 6000000], "nice": false},
          "axis": {
            "values": [0, 1000000, 2000000, 3000000, 4000000, 5000000, 6000000],
            "format": "d",
            "tickSize": 10,
            "labelPadding": 8,
            "labelFontSize": 21.5,
            "grid": true,
            "titleFontSize": 19,
            "titleAngle": -90,
            "titleAlign": "center",
            "titleBaseline": "middle",
            "titleX": -156,
            "titleY": 354
          }
        },
        "color": {
          "datum": "vmem (kb)",
          "type": "nominal",
          "scale": {"domain": ["mem (kb)", "vmem (kb)"], "range": ["#005a9c", "#ff5b10"]},
          "legend": {"title": null, "orient": "none", "legendX": 1553, "legendY": 313, "padding": 0, "labelFontSize": 22, "labelOffset": 5, "rowPadding": 6, "symbolSize": 196, "symbolOpacity": 1, "symbolStrokeWidth": 0}
        },
        "shape": {
          "datum": "vmem (kb)",
          "type": "nominal",
          "scale": {"domain": ["mem (kb)", "vmem (kb)"], "range": ["square", "diamond"]},
          "legend": {"title": null, "orient": "none", "legendX": 1553, "legendY": 313, "padding": 0, "labelFontSize": 22, "labelOffset": 5, "rowPadding": 6, "symbolSize": 196, "symbolOpacity": 1, "symbolStrokeWidth": 0}
        }
      }
    }
  ]
}
